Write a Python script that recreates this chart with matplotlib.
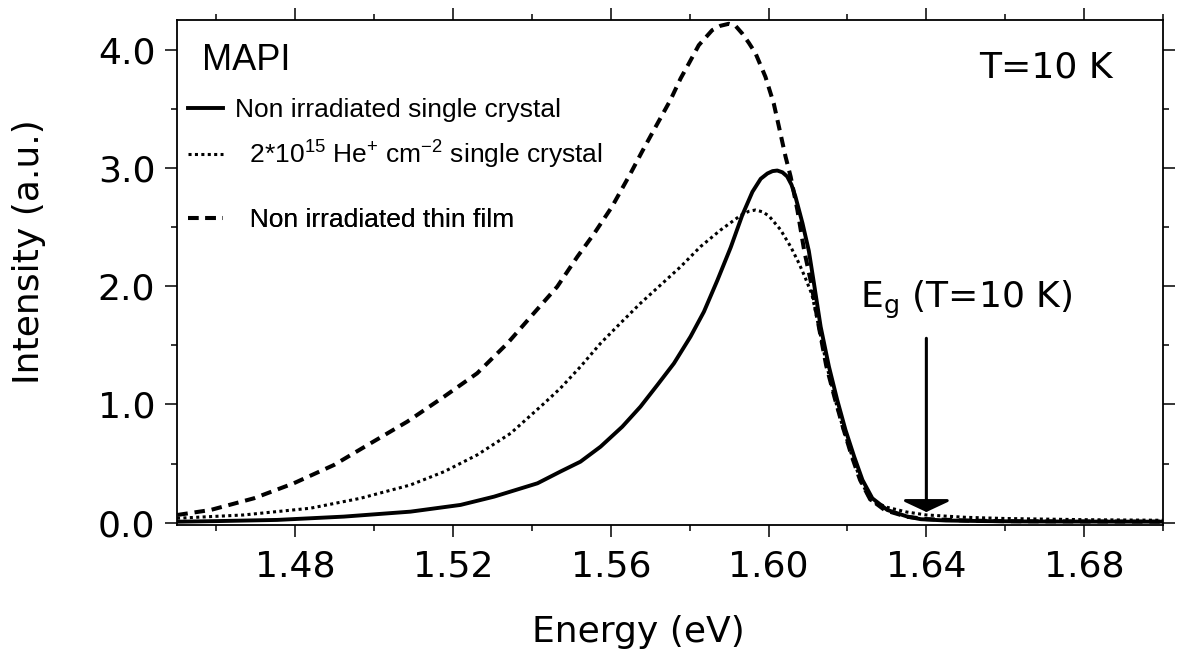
import matplotlib
matplotlib.use("Agg")
import matplotlib.pyplot as plt
from matplotlib.ticker import MultipleLocator, FormatStrFormatter
from matplotlib.lines import Line2D

# ---------------- data ----------------
E_crystal = [1.450, 1.460, 1.4754, 1.4923, 1.5092, 1.5219, 1.5304, 1.5414, 1.5472,
             1.5523, 1.5574, 1.5629, 1.5675, 1.5718, 1.5760, 1.5802, 1.5836, 1.5870,
             1.5904, 1.5933, 1.5959, 1.5980, 1.5997, 1.6010, 1.6022, 1.6035, 1.6047,
             1.6058, 1.6068, 1.6086, 1.6102, 1.6115, 1.6132, 1.6153, 1.6174, 1.6195,
             1.6217, 1.6238, 1.6263, 1.6301, 1.6352, 1.6386, 1.645, 1.655, 1.665,
             1.680, 1.700]
I_crystal = [0.008, 0.013, 0.023, 0.051, 0.093, 0.150, 0.220, 0.333, 0.432,
             0.516, 0.643, 0.812, 0.981, 1.165, 1.348, 1.574, 1.785, 2.050,
             2.330, 2.600, 2.800, 2.910, 2.955, 2.975, 2.980, 2.965, 2.930,
             2.860, 2.760, 2.533, 2.300, 2.025, 1.658, 1.320, 1.038, 0.784,
             0.558, 0.361, 0.206, 0.107, 0.051, 0.029, 0.018, 0.013, 0.010,
             0.009, 0.008]

E_irradiated = [1.450, 1.4669, 1.4838, 1.4965, 1.5092, 1.5177, 1.5261, 1.5346, 1.5431,
                1.5472, 1.5523, 1.5574, 1.5624, 1.5675, 1.5726, 1.5777, 1.5827, 1.5878,
                1.5929, 1.5950, 1.5967, 1.5985, 1.6001, 1.6030, 1.6056, 1.6077, 1.6092,
                1.6110, 1.6127, 1.6148, 1.6169, 1.6190, 1.6212, 1.6233, 1.6258, 1.630,
                1.635, 1.640, 1.650, 1.660, 1.680, 1.700]
I_irradiated = [0.037, 0.065, 0.122, 0.206, 0.319, 0.431, 0.573, 0.756, 1.010,
                1.137, 1.320, 1.518, 1.687, 1.856, 2.011, 2.166, 2.335, 2.476,
                2.600, 2.635, 2.646, 2.630, 2.595, 2.480, 2.335, 2.195, 2.080,
                1.930, 1.658, 1.320, 1.038, 0.784, 0.558, 0.361, 0.190, 0.130,
                0.090, 0.065, 0.045, 0.035, 0.025, 0.020]

E_film = [1.4501, 1.4585, 1.4695, 1.4796, 1.4898, 1.4991, 1.5084, 1.5177, 1.5261,
          1.5338, 1.5397, 1.5464, 1.5515, 1.5558, 1.5603, 1.5650, 1.5679, 1.5709,
          1.5751, 1.5777, 1.5798, 1.5823, 1.5857, 1.5878, 1.5899, 1.5916, 1.5933,
          1.5950, 1.5967, 1.5992, 1.6013, 1.6030, 1.6043, 1.6056, 1.6073, 1.6090,
          1.6108, 1.6125, 1.6146, 1.6168, 1.6190, 1.6211, 1.6232, 1.6257, 1.6295,
          1.635, 1.640, 1.650, 1.660, 1.680, 1.700]
I_film = [0.065, 0.107, 0.206, 0.333, 0.488, 0.672, 0.855, 1.066, 1.264,
          1.518, 1.743, 1.997, 2.250, 2.448, 2.674, 2.956, 3.139, 3.322,
          3.576, 3.760, 3.887, 4.041, 4.168, 4.205, 4.222, 4.205, 4.140,
          4.060, 3.971, 3.773, 3.548, 3.294, 3.097, 2.927, 2.646, 2.307,
          2.025, 1.700, 1.330, 1.050, 0.790, 0.560, 0.360, 0.200, 0.105,
          0.050, 0.030, 0.018, 0.012, 0.010, 0.008]

labels = ["Non irradiated single crystal",
          "  2*10$^{15}$ He$^{+}$ cm$^{-2}$ single crystal",
          "  Non irradiated thin film"]

x_major = [1.48, 1.52, 1.56, 1.60, 1.64, 1.68]
y_major = [0.0, 1.0, 2.0, 3.0, 4.0]

Eg_energy = 1.64
Eg_arrow_top = 1.56
Eg_arrow_tip = 0.09

# ---------------- figure ----------------
plt.rcParams['mathtext.default'] = 'regular'
W, H = 1181, 659
fig = plt.figure(figsize=(W / 100, H / 100), dpi=100)
L, R, T, B = 177, 1163, 20, 525
ax = fig.add_axes([L / W, 1 - B / H, (R - L) / W, (B - T) / H])

lw_solid = 2.8
ax.plot(E_film, I_film, color='black', lw=2.9, dashes=(2.6, 1.7),
        solid_capstyle='butt', dash_capstyle='butt')
ax.plot(E_irradiated, I_irradiated, color='black', lw=2.2, dashes=(1.0, 1.1),
        dash_capstyle='butt')
ax.plot(E_crystal, I_crystal, color='black', lw=lw_solid, solid_joinstyle='round')

ax.set_xlim(1.45, 1.70)
ax.set_ylim(-0.02, 4.254)

ax.set_xticks(x_major)
ax.xaxis.set_minor_locator(MultipleLocator(0.02))
ax.xaxis.set_major_formatter(FormatStrFormatter('%.2f'))
ax.set_yticks(y_major)
ax.yaxis.set_minor_locator(MultipleLocator(0.5))
ax.yaxis.set_major_formatter(FormatStrFormatter('%.1f'))

tick_font = 'DejaVu Sans'
ax.tick_params(which='both', direction='out', top=True, right=True, width=1.1,
               colors='black')
ax.tick_params(which='major', length=8.6, labelsize=26, pad=7)
ax.tick_params(which='minor', length=4.6)
ax.tick_params(axis='x', which='major', pad=9)
for lab in ax.get_xticklabels() + ax.get_yticklabels():
    lab.set_family(tick_font)
for s in ax.spines.values():
    s.set_linewidth(1.3)

ax.set_xlabel("Energy (eV)", fontsize=26, family=tick_font)
ax.set_ylabel("Intensity (a.u.)", fontsize=26, family=tick_font)
ax.xaxis.set_label_coords((638 - L) / (R - L), (B - 615) / (B - T))
ax.yaxis.set_label_coords((46 - L) / (R - L), (B - 252) / (B - T))

# texts
ax.text((202 - L) / (R - L), (B - 70) / (B - T), "MAPI", transform=ax.transAxes,
        fontsize=26, family='Liberation Sans', va='baseline', ha='left')
ax.text((1113 - L) / (R - L), (B - 78) / (B - T), "T=10 K", transform=ax.transAxes,
        fontsize=26, family=tick_font, va='baseline', ha='right')
ax.text((860 - L) / (R - L), (B - 308) / (B - T), "E$_{g}$ (T=10 K)",
        transform=ax.transAxes, fontsize=26, family=tick_font, va='baseline', ha='left')

ax.annotate("", xy=(Eg_energy, Eg_arrow_tip), xytext=(Eg_energy, Eg_arrow_top),
            arrowprops=dict(arrowstyle='-|>,head_length=7,head_width=15',
                            mutation_scale=1, lw=2.2, color='black',
                            shrinkA=0, shrinkB=0))

# legend (three single-entry legends to mimic the uneven row spacing)
handles = [Line2D([], [], color='black', lw=lw_solid),
           Line2D([], [], color='black', lw=2.2, dashes=(1.0, 1.1)),
           Line2D([], [], color='black', lw=2.9, dashes=(2.6, 1.7))]
row_y = [110, 155, 220]
for h, lab, yy in zip(handles, labels, row_y):
    leg = ax.legend([h], [lab], loc='center left',
                    bbox_to_anchor=((188 - L) / (R - L), (B - yy) / (B - T)),
                    frameon=False, borderpad=0, borderaxespad=0,
                    handlelength=1.33, handletextpad=0.45,
                    prop={'family': 'Liberation Sans', 'size': 19})
    ax.add_artist(leg)

fig.savefig("out.png", dpi=100)
